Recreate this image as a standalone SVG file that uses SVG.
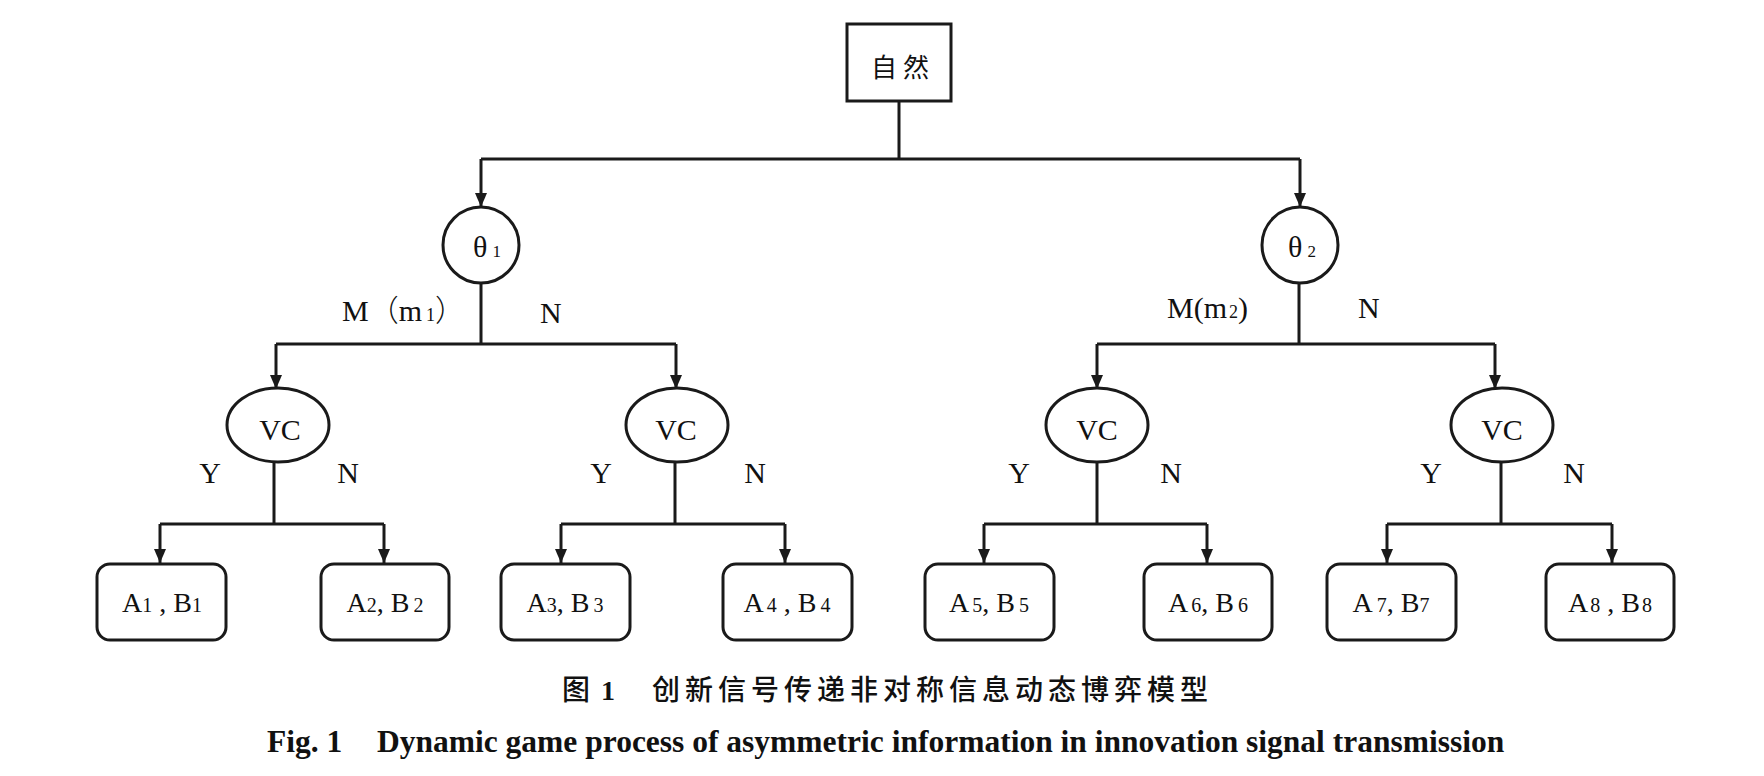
<svg xmlns="http://www.w3.org/2000/svg" width="1764" height="776" viewBox="0 0 1764 776">
<style>
.ln{fill:none;stroke:#1a1a1a;stroke-width:3}
.ar{fill:none;stroke:#1a1a1a;stroke-width:3;marker-end:url(#ah)}
.shape{fill:#fff;stroke:#1a1a1a;stroke-width:3}
.t{font-family:"Liberation Serif","Times New Roman",serif;font-size:30px;fill:#111}
.b{font-family:"Liberation Serif","Times New Roman",serif;font-size:28px;fill:#111;text-anchor:middle}
.s{font-size:20px}
.cjk{font-family:"Noto Sans CJK SC",sans-serif;fill:#111}
</style>
<defs>
<marker id="ah" markerUnits="userSpaceOnUse" markerWidth="14" markerHeight="12" viewBox="0 0 14 12" refX="14" refY="6" orient="auto">
<path d="M0,0 L14,6 L0,12 z" fill="#1a1a1a"/>
</marker>
</defs>
<rect width="1764" height="776" fill="#fff"/>

<g id="connectors">
<path class="ln" d="M899,101 V159 M481,159 H1300"/>
<path class="ar" d="M481,159 V207"/>
<path class="ar" d="M1300,159 V207"/>
<path class="ln" d="M481,283 V344 M276,344 H676"/>
<path class="ar" d="M276,344 V389"/>
<path class="ar" d="M676,344 V389"/>
<path class="ln" d="M1299,283 V344 M1097,344 H1495"/>
<path class="ar" d="M1097,344 V389"/>
<path class="ar" d="M1495,344 V389"/>
<path class="ln" d="M274,462 V524 M160,524 H384"/>
<path class="ar" d="M160,524 V563"/>
<path class="ar" d="M384,524 V563"/>
<path class="ln" d="M675,462 V524 M561,524 H785"/>
<path class="ar" d="M561,524 V563"/>
<path class="ar" d="M785,524 V563"/>
<path class="ln" d="M1097,462 V524 M984,524 H1207"/>
<path class="ar" d="M984,524 V563"/>
<path class="ar" d="M1207,524 V563"/>
<path class="ln" d="M1501,462 V524 M1387,524 H1612"/>
<path class="ar" d="M1387,524 V563"/>
<path class="ar" d="M1612,524 V563"/>
</g>

<g id="labels">
<text class="t" x="342" y="321" font-size="28">M<tspan class="cjk" font-weight="300">（</tspan>m<tspan font-size="18" dx="4">1</tspan><tspan class="cjk" font-weight="300">）</tspan></text>
<text class="t" x="540" y="323">N</text>
<text class="t" x="1167" y="318">M(m<tspan font-size="18" dx="2">2</tspan>)</text>
<text class="t" x="1358" y="318">N</text>
<text class="t" x="210" y="483" text-anchor="middle">Y</text>
<text class="t" x="348" y="483" text-anchor="middle">N</text>
<text class="t" x="601" y="483" text-anchor="middle">Y</text>
<text class="t" x="755" y="483" text-anchor="middle">N</text>
<text class="t" x="1019" y="483" text-anchor="middle">Y</text>
<text class="t" x="1171" y="483" text-anchor="middle">N</text>
<text class="t" x="1431" y="483" text-anchor="middle">Y</text>
<text class="t" x="1574" y="483" text-anchor="middle">N</text>
</g>

<g id="nature">
<rect class="shape" x="847" y="24" width="104" height="77"/>
<text class="cjk" x="871" y="77" font-size="26" font-weight="400" letter-spacing="6">自然</text>
</g>

<g id="theta1">
<circle class="shape" cx="481" cy="245" r="38"/>
<text class="t" x="473" y="257">θ<tspan font-size="17" dx="5">1</tspan></text>
</g>
<g id="theta2">
<circle class="shape" cx="1300" cy="245" r="38"/>
<text class="t" x="1288" y="257">θ<tspan font-size="17" dx="5">2</tspan></text>
</g>

<g id="vc1">
<ellipse class="shape" cx="278" cy="425" rx="51" ry="37"/>
<text class="t" x="280" y="440" text-anchor="middle">VC</text>
</g>
<g id="vc2">
<ellipse class="shape" cx="677" cy="425" rx="51" ry="37"/>
<text class="t" x="676" y="440" text-anchor="middle">VC</text>
</g>
<g id="vc3">
<ellipse class="shape" cx="1097" cy="425" rx="51" ry="37"/>
<text class="t" x="1097" y="440" text-anchor="middle">VC</text>
</g>
<g id="vc4">
<ellipse class="shape" cx="1502" cy="425" rx="51" ry="37"/>
<text class="t" x="1502" y="440" text-anchor="middle">VC</text>
</g>

<g id="ab1"><rect class="shape" x="97" y="564" width="129" height="76" rx="13"/>
<text class="b" x="162" y="612">A<tspan class="s">1</tspan> , B<tspan class="s">1</tspan></text></g>
<g id="ab2"><rect class="shape" x="321" y="564" width="128" height="76" rx="13"/>
<text class="b" x="385" y="612">A<tspan class="s">2</tspan>, B<tspan class="s" dx="4">2</tspan></text></g>
<g id="ab3"><rect class="shape" x="501" y="564" width="129" height="76" rx="13"/>
<text class="b" x="565" y="612">A<tspan class="s">3</tspan>, B<tspan class="s" dx="4">3</tspan></text></g>
<g id="ab4"><rect class="shape" x="723" y="564" width="129" height="76" rx="13"/>
<text class="b" x="787" y="612">A<tspan class="s" dx="3">4</tspan> , B<tspan class="s" dx="4">4</tspan></text></g>
<g id="ab5"><rect class="shape" x="925" y="564" width="129" height="76" rx="13"/>
<text class="b" x="989" y="612">A<tspan class="s" dx="3">5</tspan>, B<tspan class="s" dx="4">5</tspan></text></g>
<g id="ab6"><rect class="shape" x="1144" y="564" width="128" height="76" rx="13"/>
<text class="b" x="1208" y="612">A<tspan class="s" dx="3">6</tspan>, B<tspan class="s" dx="4">6</tspan></text></g>
<g id="ab7"><rect class="shape" x="1327" y="564" width="129" height="76" rx="13"/>
<text class="b" x="1391" y="612">A<tspan class="s" dx="4">7</tspan>, B<tspan class="s">7</tspan></text></g>
<g id="ab8"><rect class="shape" x="1546" y="564" width="128" height="76" rx="13"/>
<text class="b" x="1610" y="612">A<tspan class="s" dx="2">8</tspan> , B<tspan class="s" dx="2">8</tspan></text></g>

<g id="caption">
<text class="cjk" x="562" y="700" font-size="28" font-weight="500">图<tspan x="601" font-family="Liberation Serif,serif" font-weight="700">1</tspan><tspan x="652" letter-spacing="5">创新信号传递非对称信息动态博弈模型</tspan></text>
<text x="267" y="752" font-family="Liberation Serif,'Times New Roman',serif" font-weight="700" font-size="31.5" fill="#111">Fig. 1<tspan x="377">Dynamic game process of asymmetric information in innovation signal transmission</tspan></text>
</g>
</svg>
